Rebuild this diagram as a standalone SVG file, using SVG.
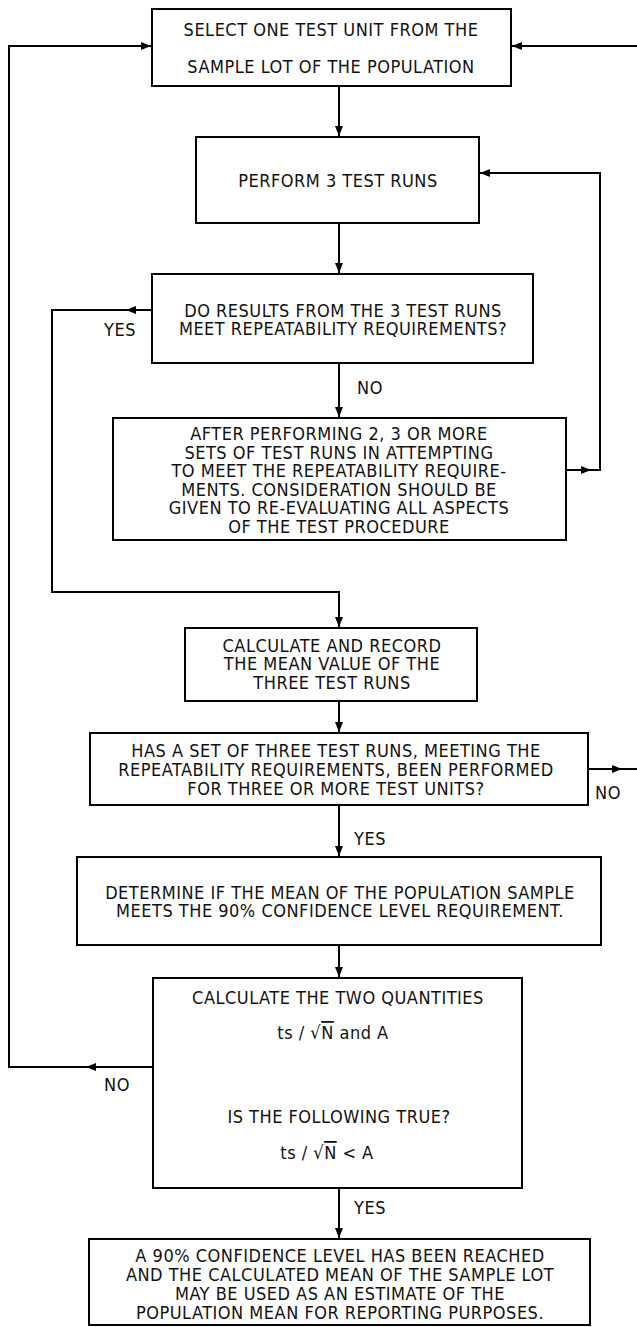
<svg xmlns="http://www.w3.org/2000/svg" width="637" height="1327" viewBox="0 0 637 1327">
<defs>
<style>
.box{fill:#fff;stroke:#000;stroke-width:2}
.t{font-family:"DejaVu Sans Condensed","DejaVu Sans",sans-serif;font-size:18px;letter-spacing:0.5px;text-anchor:middle;fill:#111}
.c{fill:none;stroke:#000;stroke-width:2}
</style>
<marker id="ah" viewBox="0 0 10 8" refX="10" refY="4" markerWidth="10" markerHeight="8" markerUnits="userSpaceOnUse" orient="auto">
<path d="M0,0 L10,4 L0,8 Z" fill="#000"/>
</marker>
</defs>
<g id="connectors">
<path class="c" d="M339,86 V136" marker-end="url(#ah)"/>
<path class="c" d="M339,223 V273" marker-end="url(#ah)"/>
<path class="c" d="M152,310 H126" marker-end="url(#ah)"/>
<path class="c" d="M127,310 H52 V592 H339 V627" marker-end="url(#ah)"/>
<path class="c" d="M339,363 V417" marker-end="url(#ah)"/>
<path class="c" d="M566,470 H591" marker-end="url(#ah)"/>
<path class="c" d="M590,470 H600 V173 H480" marker-end="url(#ah)"/>
<path class="c" d="M339,701 V732" marker-end="url(#ah)"/>
<path class="c" d="M588,769 H622" marker-end="url(#ah)"/>
<path class="c" d="M621,769 H637"/>
<path class="c" d="M637,46 H512" marker-end="url(#ah)"/>
<path class="c" d="M339,805 V856" marker-end="url(#ah)"/>
<path class="c" d="M339,945 V977" marker-end="url(#ah)"/>
<path class="c" d="M153,1067 H86" marker-end="url(#ah)"/>
<path class="c" d="M87,1067 H9 V46 H151" marker-end="url(#ah)"/>
<path class="c" d="M339,1188 V1238" marker-end="url(#ah)"/>
<text class="t" x="120" y="336">YES</text>
<text class="t" x="370" y="394">NO</text>
<text class="t" x="608" y="799">NO</text>
<text class="t" x="370" y="845">YES</text>
<text class="t" x="117" y="1091">NO</text>
<text class="t" x="370" y="1214">YES</text>
</g>
<g id="n1">
<rect class="box" x="152" y="9" width="359" height="77"/>
<text class="t" x="331" y="36">SELECT ONE TEST UNIT FROM THE</text>
<text class="t" x="331" y="73">SAMPLE LOT OF THE POPULATION</text>
</g>
<g id="n2">
<rect class="box" x="196" y="137" width="283" height="86"/>
<text class="t" x="338" y="187">PERFORM 3 TEST RUNS</text>
</g>
<g id="n3">
<rect class="box" x="152" y="274" width="381" height="89"/>
<text class="t" x="343" y="316.5">DO RESULTS FROM THE 3 TEST RUNS</text>
<text class="t" x="343" y="335">MEET REPEATABILITY REQUIREMENTS?</text>
</g>
<g id="n4">
<rect class="box" x="113" y="418" width="453" height="122"/>
<text class="t" x="339" y="440">AFTER PERFORMING 2, 3 OR MORE</text>
<text class="t" x="339" y="458.5">SETS OF TEST RUNS IN ATTEMPTING</text>
<text class="t" x="339" y="477">TO MEET THE REPEATABILITY REQUIRE-</text>
<text class="t" x="339" y="495.5">MENTS. CONSIDERATION SHOULD BE</text>
<text class="t" x="339" y="514">GIVEN TO RE-EVALUATING ALL ASPECTS</text>
<text class="t" x="339" y="532.5">OF THE TEST PROCEDURE</text>
</g>
<g id="n5">
<rect class="box" x="185" y="628" width="292" height="73"/>
<text class="t" x="332" y="651.5">CALCULATE AND RECORD</text>
<text class="t" x="332" y="670">THE MEAN VALUE OF THE</text>
<text class="t" x="332" y="688.5">THREE TEST RUNS</text>
</g>
<g id="n6">
<rect class="box" x="90" y="733" width="498" height="72"/>
<text class="t" x="336" y="757">HAS A SET OF THREE TEST RUNS, MEETING THE</text>
<text class="t" x="336" y="776">REPEATABILITY REQUIREMENTS, BEEN PERFORMED</text>
<text class="t" x="336" y="795">FOR THREE OR MORE TEST UNITS?</text>
</g>
<g id="n7">
<rect class="box" x="77" y="857" width="524" height="88"/>
<text class="t" x="340" y="898.5">DETERMINE IF THE MEAN OF THE POPULATION SAMPLE</text>
<text class="t" x="340" y="917">MEETS THE 90% CONFIDENCE LEVEL REQUIREMENT.</text>
</g>
<g id="n8">
<rect class="box" x="153" y="978" width="369" height="210"/>
<text class="t" x="338" y="1004">CALCULATE THE TWO QUANTITIES</text>
<text class="t" x="333" y="1039">ts / √<tspan text-decoration="overline">N</tspan> and A</text>
<text class="t" x="339" y="1123">IS THE FOLLOWING TRUE?</text>
<text class="t" x="327" y="1159">ts / √<tspan text-decoration="overline">N</tspan> &lt; A</text>
</g>
<g id="n9">
<rect class="box" x="89" y="1239" width="501" height="86"/>
<text class="t" x="340" y="1262">A 90% CONFIDENCE LEVEL HAS BEEN REACHED</text>
<text class="t" x="340" y="1281">AND THE CALCULATED MEAN OF THE SAMPLE LOT</text>
<text class="t" x="340" y="1300">MAY BE USED AS AN ESTIMATE OF THE</text>
<text class="t" x="340" y="1319">POPULATION MEAN FOR REPORTING PURPOSES.</text>
</g>
</svg>
